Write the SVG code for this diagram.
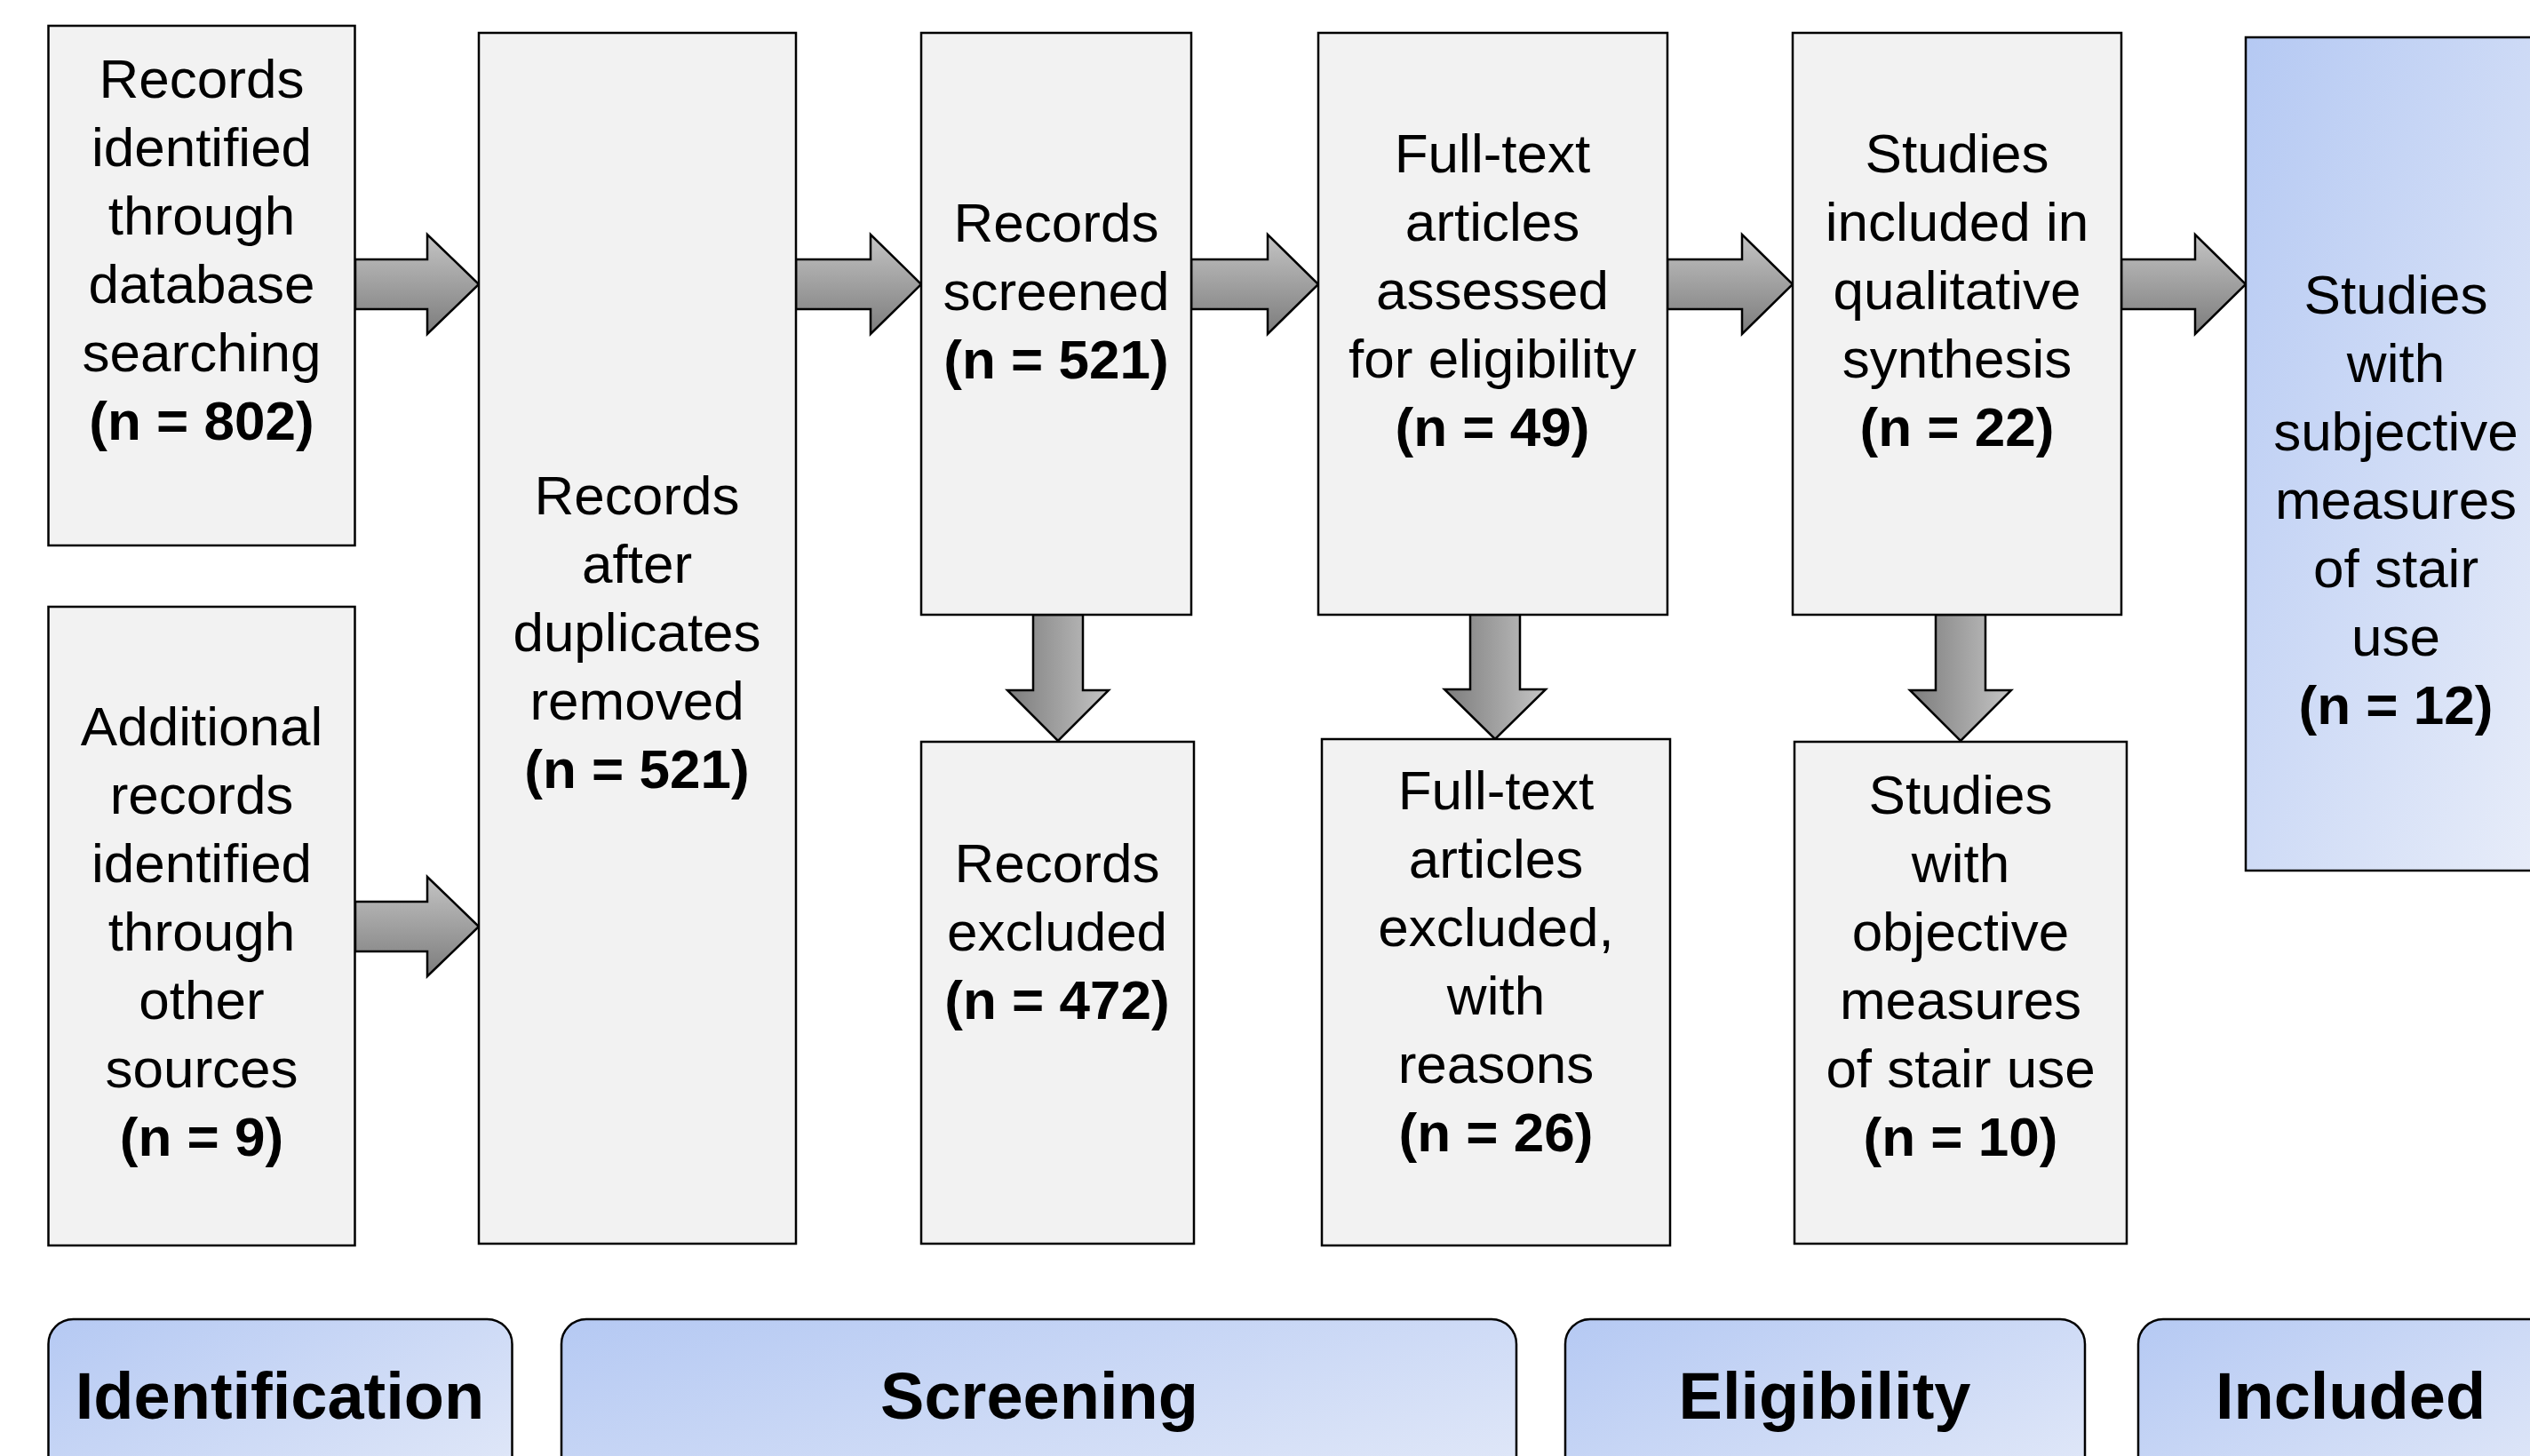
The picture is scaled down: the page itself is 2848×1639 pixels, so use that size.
<svg xmlns="http://www.w3.org/2000/svg" width="2848" height="1639" viewBox="0 0 2848 1639">
<defs>
<linearGradient id="gR" x1="0" y1="0" x2="0" y2="1"><stop offset="0" stop-color="#c4c4c4"/><stop offset="1" stop-color="#7c7c7c"/></linearGradient>
<linearGradient id="gD" x1="0" y1="0" x2="1" y2="0"><stop offset="0" stop-color="#7c7c7c"/><stop offset="1" stop-color="#c4c4c4"/></linearGradient>
<linearGradient id="gB" x1="0" y1="0" x2="1" y2="1"><stop offset="0" stop-color="#b5c9f3"/><stop offset="1" stop-color="#e8edf9"/></linearGradient>
</defs>
<style>
.box{fill:#f2f2f2;stroke:#000;stroke-width:2.5}
.blue{fill:url(#gB);stroke:#000;stroke-width:2.5}
.ar{fill:url(#gR);stroke:#000;stroke-width:2.5;stroke-linejoin:miter}
.ad{fill:url(#gD);stroke:#000;stroke-width:2.5;stroke-linejoin:miter}
text{font-family:"Liberation Sans",Arial,sans-serif;font-size:62px;text-anchor:middle;fill:#000}
.b{font-weight:bold}
.lab{font-family:"Liberation Sans",Arial,sans-serif;font-size:74px;font-weight:bold}
</style>
<rect width="2848" height="1639" fill="#fff"/>
<g id="connectors">
<path class="ar" d="M400,292 H481 V264 L539,320 L481,376 V348 H400 Z"/>
<path class="ar" d="M400,1015 H481 V987 L539,1043 L481,1099 V1071 H400 Z"/>
<path class="ar" d="M896,292 H980 V264 L1037,320 L980,376 V348 H896 Z"/>
<path class="ar" d="M1341,292 H1427 V264 L1484,320 L1427,376 V348 H1341 Z"/>
<path class="ar" d="M1877,292 H1961 V264 L2018,320 L1961,376 V348 H1877 Z"/>
<path class="ar" d="M2388,292 H2471 V264 L2528,320 L2471,376 V348 H2388 Z"/>
<path class="ad" d="M1163,692 V777 H1134 L1191,834 L1248,777 H1219 V692 Z"/>
<path class="ad" d="M1655,692 V776 H1626 L1683,832 L1740,776 H1711 V692 Z"/>
<path class="ad" d="M2179,692 V777 H2150 L2207,834 L2264,777 H2235 V692 Z"/>
</g>
<g id="n1"><rect class="box" x="54.5" y="29" width="345" height="585"/>
<text x="227" y="110">Records</text><text x="227" y="187">identified</text><text x="227" y="264">through</text><text x="227" y="341">database</text><text x="227" y="418">searching</text><text class="b" x="227" y="495">(n = 802)</text></g>
<g id="n2"><rect class="box" x="54.5" y="683" width="345" height="719"/>
<text x="227" y="839">Additional</text><text x="227" y="916">records</text><text x="227" y="993">identified</text><text x="227" y="1070">through</text><text x="227" y="1147">other</text><text x="227" y="1224">sources</text><text class="b" x="227" y="1301">(n = 9)</text></g>
<g id="n3"><rect class="box" x="539" y="37" width="357" height="1363"/>
<text x="717" y="579">Records</text><text x="717" y="656">after</text><text x="717" y="733">duplicates</text><text x="717" y="810">removed</text><text class="b" x="717" y="887">(n = 521)</text></g>
<g id="n4"><rect class="box" x="1037" y="37" width="304" height="655"/>
<text x="1189" y="272">Records</text><text x="1189" y="349">screened</text><text class="b" x="1189" y="426">(n = 521)</text></g>
<g id="n5"><rect class="box" x="1037" y="835" width="307" height="565"/>
<text x="1190" y="993">Records</text><text x="1190" y="1070">excluded</text><text class="b" x="1190" y="1147">(n = 472)</text></g>
<g id="n6"><rect class="box" x="1484" y="37" width="393" height="655"/>
<text x="1680" y="194">Full-text</text><text x="1680" y="271">articles</text><text x="1680" y="348">assessed</text><text x="1680" y="425">for eligibility</text><text class="b" x="1680" y="502">(n = 49)</text></g>
<g id="n7"><rect class="box" x="1488" y="832" width="392" height="570"/>
<text x="1684" y="911">Full-text</text><text x="1684" y="988">articles</text><text x="1684" y="1065">excluded,</text><text x="1684" y="1142">with</text><text x="1684" y="1219">reasons</text><text class="b" x="1684" y="1296">(n = 26)</text></g>
<g id="n8"><rect class="box" x="2018" y="37" width="370" height="655"/>
<text x="2203" y="194">Studies</text><text x="2203" y="271">included in</text><text x="2203" y="348">qualitative</text><text x="2203" y="425">synthesis</text><text class="b" x="2203" y="502">(n = 22)</text></g>
<g id="n9"><rect class="box" x="2020" y="835" width="374" height="565"/>
<text x="2207" y="916">Studies</text><text x="2207" y="993">with</text><text x="2207" y="1070">objective</text><text x="2207" y="1147">measures</text><text x="2207" y="1224">of stair use</text><text class="b" x="2207" y="1301">(n = 10)</text></g>
<g id="n10"><rect class="blue" x="2528" y="42" width="338" height="938"/>
<text x="2697" y="353">Studies</text><text x="2697" y="430">with</text><text x="2697" y="507">subjective</text><text x="2697" y="584">measures</text><text x="2697" y="661">of stair</text><text x="2697" y="738">use</text><text class="b" x="2697" y="815">(n = 12)</text></g>
<g id="l1"><rect class="blue" x="54.5" y="1485" width="522" height="250" rx="28" ry="28"/><text class="lab" x="315" y="1597">Identification</text></g>
<g id="l2"><rect class="blue" x="632" y="1485" width="1075" height="250" rx="28" ry="28"/><text class="lab" x="1170" y="1597">Screening</text></g>
<g id="l3"><rect class="blue" x="1762" y="1485" width="585" height="250" rx="28" ry="28"/><text class="lab" x="2054" y="1597">Eligibility</text></g>
<g id="l4"><rect class="blue" x="2407" y="1485" width="478" height="250" rx="28" ry="28"/><text class="lab" x="2646" y="1597">Included</text></g>
</svg>
